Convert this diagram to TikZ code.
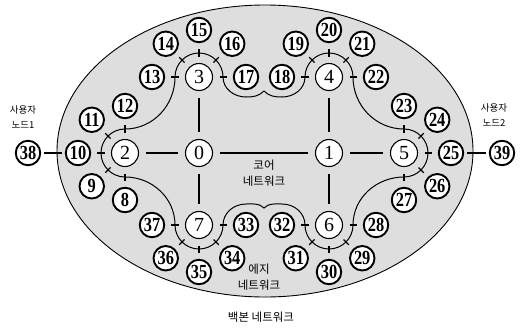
\documentclass[tikz,border=0pt]{standalone}
\usepackage{fontspec}
\usepackage{graphicx}
\setmainfont{Liberation Serif}
\newfontfamily\kr{Noto Sans CJK KR}
\usetikzlibrary{calc}
\newcommand\nm[1]{\scalebox{0.82}[1]{#1}}
\begin{document}
\begin{tikzpicture}[x=1pt,y=1pt,
  hub/.style={circle,draw,line width=1.1pt,fill=white,minimum size=27pt,inner sep=0pt,font=\fontsize{20}{20}\selectfont},
  sn/.style={circle,draw,line width=1.9pt,fill=white,minimum size=24.5pt,inner sep=0pt,font=\bfseries\fontsize{20}{20}\selectfont},
  core/.style={line width=1.4pt,shorten <=7pt,shorten >=7pt},
  tickmark/.style={line width=1.1pt},
  edgecurve/.style={line width=1pt},
  lbl/.style={font=\kr\fontsize{11.5}{16}\selectfont,align=center,inner sep=0pt},
  ulbl/.style={font=\kr\fontsize{9.5}{15}\selectfont,align=center,inner sep=0pt},
]
\useasboundingbox (0,0) rectangle (526,-327);
% backbone network
\draw[line width=0.9pt,fill=black!13] (265,-151) ellipse [x radius=208pt, y radius=146pt];
% edge network boundary
\draw[edgecurve]
  (125,-177) arc[start angle=-90,end angle=-270,radius=24pt]
  to[out=0,in=-90] (175,-77)
  arc[start angle=180,end angle=0,radius=24pt]
  to[out=-90,in=180] (246,-97)
  to[out=0,in=-135] (264,-91)
  to[out=-45,in=180] (282,-97)
  to[out=0,in=-90] (305,-77)
  arc[start angle=180,end angle=0,radius=24pt]
  to[out=-90,in=180] (404,-129)
  arc[start angle=90,end angle=-90,radius=24pt]
  to[out=180,in=90] (353,-225)
  arc[start angle=0,end angle=-180,radius=24pt]
  to[out=90,in=0] (282,-204)
  to[out=180,in=45] (264,-208)
  to[out=135,in=0] (246,-204)
  to[out=180,in=90] (223,-225)
  arc[start angle=0,end angle=-180,radius=24pt]
  to[out=90,in=0] (125,-177) -- cycle;
% hubs
\node[hub] (h0) at (199,-153) {0};
\node[hub] (h1) at (329,-153) {1};
\node[hub] (h2) at (125,-153) {2};
\node[hub] (h3) at (199,-77) {3};
\node[hub] (h4) at (329,-77) {4};
\node[hub] (h5) at (404,-153) {5};
\node[hub] (h6) at (329,-225) {6};
\node[hub] (h7) at (199,-225) {7};
% core links
\draw[core] (h0) -- (h1);
\draw[core] (h0) -- (h2);
\draw[core] (h0) -- (h3);
\draw[core] (h0) -- (h7);
\draw[core] (h1) -- (h4);
\draw[core] (h1) -- (h5);
\draw[core] (h1) -- (h6);
% edge nodes with their ticks
\foreach \hh/\a/\n in {h2/90/12,h2/135/11,h2/180/10,h2/225/9,h2/270/8,
                       h3/180/13,h3/135/14,h3/90/15,h3/45/16,h3/0/17,
                       h4/180/18,h4/135/19,h4/90/20,h4/45/21,h4/0/22,
                       h5/90/23,h5/45/24,h5/0/25,h5/-45/26,h5/-90/27,
                       h6/0/28,h6/-45/29,h6/-90/30,h6/-135/31,h6/180/32,
                       h7/0/33,h7/-45/34,h7/-90/35,h7/-135/36,h7/180/37}{
  \draw[tickmark] ($(\hh)+(\a:20.5)$) -- ($(\hh)+(\a:28)$);
  \node[sn] (n\n) at ($(\hh)+(\a:47)$) {\nm{\n}};
}
% user nodes
\node[sn] (n38) at (28,-153) {\nm{38}};
\node[sn] (n39) at (502,-153) {\nm{39}};
\draw[line width=1.3pt,shorten <=3pt,shorten >=3pt] (n38) -- (n10);
\draw[line width=1.3pt,shorten <=3pt,shorten >=3pt] (n25) -- (n39);
% labels
\node[ulbl] (u1) at (23,-117) {사용자\\노드1};
\node[ulbl] (u2) at (494,-115) {사용자\\노드2};
\node[lbl] (lc) at (264,-173) {코어\\네트워크};
\node[lbl] (le) at (259,-277) {에지\\네트워크};
\node[lbl] (lb) at (261,-317) {백본 네트워크};
\end{tikzpicture}
\end{document}
